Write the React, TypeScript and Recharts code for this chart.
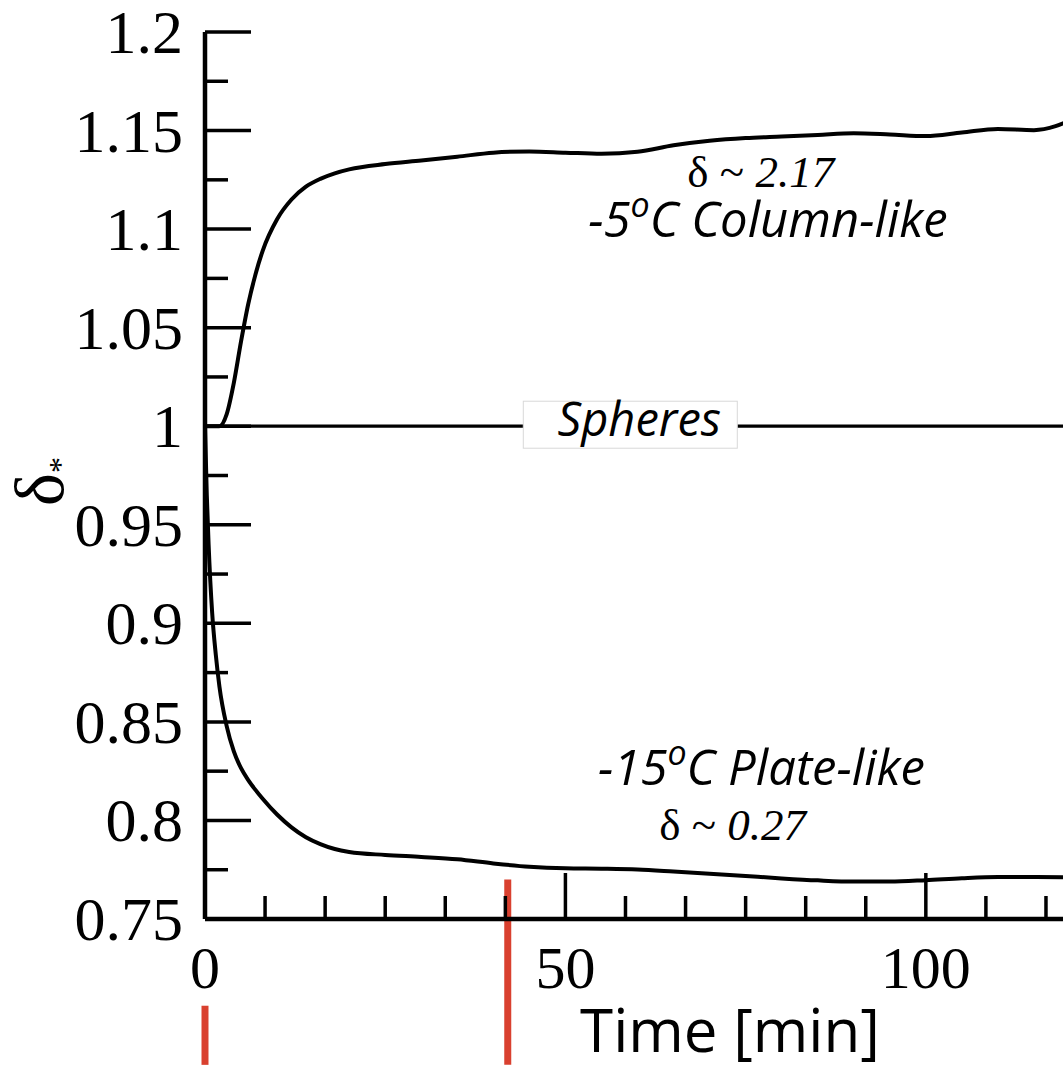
import { LineChart, Line, XAxis, YAxis, ReferenceLine, ReferenceDot } from "recharts";

// time [min] and delta*
const T_COLUMN = [0, 2, 3, 4, 5, 6, 7, 8, 10, 12, 14, 16, 18, 20, 25, 30, 35, 40, 45, 50, 55, 60, 65, 70, 75, 80, 85, 90, 95, 100, 105, 110, 115, 118, 120];
const D_COLUMN = [1.0, 1.0, 1.006, 1.022, 1.043, 1.062, 1.077, 1.089, 1.105, 1.115, 1.1215, 1.1255, 1.1283, 1.1303, 1.133, 1.1348, 1.1367, 1.1388, 1.1394, 1.1388, 1.1382, 1.1392, 1.1425, 1.1448, 1.1462, 1.147, 1.1478, 1.1486, 1.148, 1.1472, 1.149, 1.1508, 1.1502, 1.1522, 1.1552];

const T_PLATE = [0, 0.25, 0.5, 1, 1.5, 2, 3, 4, 5, 6, 7, 8, 10, 12, 14, 16, 18, 20, 25, 30, 35, 40, 45, 50, 55, 60, 65, 70, 75, 80, 85, 90, 95, 100, 105, 110, 115, 120];
const D_PLATE = [1.0, 0.965, 0.94, 0.905, 0.884, 0.868, 0.848, 0.835, 0.8265, 0.8205, 0.8155, 0.811, 0.803, 0.7965, 0.7915, 0.788, 0.7855, 0.784, 0.7825, 0.7815, 0.7803, 0.7782, 0.7765, 0.7757, 0.7755, 0.7751, 0.7741, 0.773, 0.7718, 0.7706, 0.7696, 0.769, 0.769, 0.7697, 0.7707, 0.7713, 0.7713, 0.7712];

const T_SPHERE = [0, 120];
const D_SPHERE = [1, 1];

const X_TICKS = [0, 8.333, 16.667, 25, 33.333, 41.667, 50, 58.333, 66.667, 75, 83.333, 91.667, 100, 108.333, 116.667];
const X_MAJOR = [0, 50, 100];
const Y_TICKS = [0.75, 0.775, 0.8, 0.825, 0.85, 0.875, 0.9, 0.925, 0.95, 0.975, 1, 1.025, 1.05, 1.075, 1.1, 1.125, 1.15, 1.175, 1.2];

// red markers below the axis: time, top, bottom (delta* units)
const MARK_T = [0, 42];
const MARK_TOP = [0.706, 0.77];
const MARK_BOTTOM = [0.676, 0.676];

const zip = (t: number[], d: number[]) => t.map((x, i) => ({ t: x, d: d[i] }));
const column = zip(T_COLUMN, D_COLUMN);
const plate = zip(T_PLATE, D_PLATE);
const sphere = zip(T_SPHERE, D_SPHERE);

const SERIF = "'Liberation Serif', 'DejaVu Serif', serif";
const SANS = "'Open Sans', 'Liberation Sans', sans-serif";
const MAJOR = 46;
const MINOR = 23;
const TICK_W = 3.5;
const AXIS = { stroke: "#000", strokeWidth: 4.5 };

const isMajorY = (v: number) => Math.round(v * 1000) % 50 === 0;
const isMajorX = (v: number) => X_MAJOR.includes(v);

function BottomTick(p: any) {
  const v = p.payload.value;
  const major = isMajorX(v);
  return (
    <g>
      <line x1={p.x} x2={p.x} y1={p.y} y2={p.y - (major ? MAJOR : MINOR)} stroke="#000" strokeWidth={TICK_W} />
      {major && (
        <text x={p.x} y={p.y + 69} textAnchor="middle" fontFamily={SERIF} fontSize={60} fill="#000">
          {v}
        </text>
      )}
    </g>
  );
}

function TopTick(p: any) {
  const major = isMajorX(p.payload.value);
  return <line x1={p.x} x2={p.x} y1={p.y} y2={p.y + (major ? MAJOR : MINOR)} stroke="#000" strokeWidth={TICK_W} />;
}

function LeftTick(p: any) {
  const v = p.payload.value;
  const major = isMajorY(v);
  return (
    <g>
      <line x1={p.x} x2={p.x + (major ? MAJOR : MINOR)} y1={p.y} y2={p.y} stroke="#000" strokeWidth={TICK_W} />
      {major && (
        <text x={p.x - 22} y={p.y + 21} textAnchor="end" fontFamily={SERIF} fontSize={62} fill="#000">
          {String(v)}
        </text>
      )}
    </g>
  );
}

function RightTick(p: any) {
  const major = isMajorY(p.payload.value);
  return <line x1={p.x} x2={p.x - (major ? MAJOR : MINOR)} y1={p.y} y2={p.y} stroke="#000" strokeWidth={TICK_W} />;
}

function YLabel(props: any) {
  const vb = props.viewBox || { x: 5, y: 32, width: 200, height: 887 };
  const cx = vb.x + 58;
  const cy = vb.y + vb.height / 2 + 6;
  return (
    <text transform={`rotate(-90 ${cx} ${cy})`} x={cx} y={cy} textAnchor="middle" fontFamily={SERIF} fill="#000">
      <tspan fontSize={70}>δ</tspan>
      <tspan fontSize={32} dy={8}>*</tspan>
    </text>
  );
}

function SpheresBox(p: any) {
  return (
    <g>
      <rect x={p.cx - 107} y={p.cy - 25} width={214} height={47} fill="#fff" stroke="#d8d8d8" strokeWidth={1} />
      <text x={p.cx + 9} y={p.cy + 10} textAnchor="middle" fontFamily={SANS} fontStyle="italic" fontSize={47} fill="#000">
        Spheres
      </text>
    </g>
  );
}

function DeltaNote(value: string) {
  return (p: any) => (
    <text x={p.cx} y={p.cy} textAnchor="middle" fontFamily={SERIF} fontSize={45} fill="#000">
      <tspan>δ ~ </tspan>
      <tspan fontStyle="italic">{value}</tspan>
    </text>
  );
}

function CrystalNote(temp: string, name: string) {
  return (p: any) => (
    <text x={p.cx} y={p.cy} textAnchor="middle" fontFamily={SANS} fontStyle="italic" fontSize={49} fill="#000">
      <tspan>{temp}</tspan>
      <tspan fontSize={34} dy={-20}>o</tspan>
      <tspan dy={20}>{"C " + name}</tspan>
    </text>
  );
}

export default function App() {
  return (
    <div style={{ position: "absolute", left: 0, top: 0, width: 1063, height: 1065, overflow: "hidden", background: "#fff" }}>
      <LineChart width={1100} height={1065} margin={{ top: 32, right: 30, bottom: 46, left: 5 }}>
        <XAxis
          xAxisId="b"
          dataKey="t"
          type="number"
          domain={[0, 120]}
          ticks={X_TICKS}
          interval={0}
          height={100}
          tickSize={0}
          tickMargin={0}
          tickLine={false}
          axisLine={AXIS}
          tick={<BottomTick />}
        />
        <XAxis
          xAxisId="t"
          orientation="top"
          dataKey="t"
          type="number"
          domain={[0, 120]}
          ticks={X_TICKS}
          interval={0}
          height={0}
          tickSize={0}
          tickMargin={0}
          tickLine={false}
          axisLine={AXIS}
          tick={<TopTick />}
        />
        <YAxis
          yAxisId="l"
          type="number"
          domain={[0.75, 1.2]}
          ticks={Y_TICKS}
          interval={0}
          width={200}
          tickSize={0}
          tickMargin={0}
          tickLine={false}
          axisLine={AXIS}
          tick={<LeftTick />}
          label={{ content: YLabel }}
        />
        <YAxis
          yAxisId="r"
          orientation="right"
          type="number"
          domain={[0.75, 1.2]}
          ticks={Y_TICKS}
          interval={0}
          width={0}
          tickSize={0}
          tickMargin={0}
          tickLine={false}
          axisLine={AXIS}
          tick={<RightTick />}
        />

        <Line xAxisId="b" yAxisId="l" data={sphere} dataKey="d" type="linear" stroke="#000" strokeWidth={3.2} dot={false} isAnimationActive={false} />
        <Line xAxisId="b" yAxisId="l" data={column} dataKey="d" type="monotone" stroke="#000" strokeWidth={4} dot={false} isAnimationActive={false} />
        <Line xAxisId="b" yAxisId="l" data={plate} dataKey="d" type="monotone" stroke="#000" strokeWidth={4} dot={false} isAnimationActive={false} />

        <ReferenceDot xAxisId="b" yAxisId="l" x={59} y={1} r={0} shape={SpheresBox} ifOverflow="visible" />
        <ReferenceDot xAxisId="b" yAxisId="l" x={77.1} y={1.1214} r={0} shape={DeltaNote("2.17")} ifOverflow="visible" />
        <ReferenceDot xAxisId="b" yAxisId="l" x={78.1} y={1.096} r={0} shape={CrystalNote("-5", "Column-like")} ifOverflow="visible" />
        <ReferenceDot xAxisId="b" yAxisId="l" x={77.2} y={0.818} r={0} shape={CrystalNote("-15", "Plate-like")} ifOverflow="visible" />
        <ReferenceDot xAxisId="b" yAxisId="l" x={73.2} y={0.79} r={0} shape={DeltaNote("0.27")} ifOverflow="visible" />

        {MARK_T.map((t, i) => (
          <ReferenceLine
            key={i}
            xAxisId="b"
            yAxisId="l"
            segment={[{ x: t, y: MARK_TOP[i] }, { x: t, y: MARK_BOTTOM[i] }]}
            stroke="#d9402f"
            strokeWidth={7}
            ifOverflow="visible"
          />
        ))}

        <text x={730} y={1052} textAnchor="middle" fontFamily={SANS} fontSize={60} fill="#000">
          Time [min]
        </text>
      </LineChart>
    </div>
  );
}
